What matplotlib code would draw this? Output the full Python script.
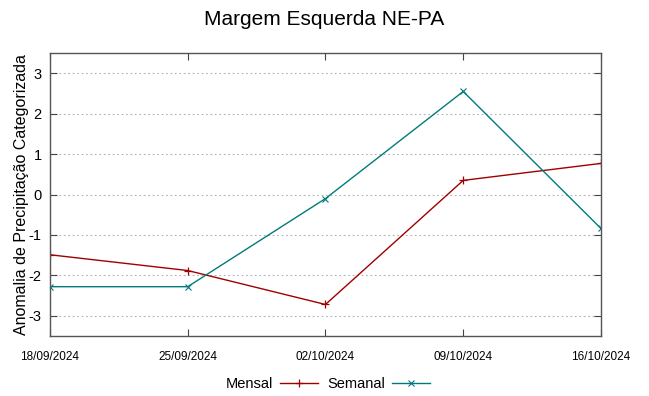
import matplotlib
matplotlib.use("Agg")
import matplotlib.pyplot as plt

plt.rcParams["font.family"] = ["Liberation Sans", "DejaVu Sans"]

dates = ["18/09/2024", "25/09/2024", "02/10/2024", "09/10/2024", "16/10/2024"]
mensal = [-1.49, -1.88, -2.72, 0.35, 0.77]
semanal = [-2.28, -2.28, -0.10, 2.55, -0.84]
yticks = [-3, -2, -1, 0, 1, 2, 3]

x = list(range(len(dates)))

fig = plt.figure(figsize=(6.49, 3.96), dpi=100)
ax = fig.add_axes([0.077, 0.1515, 0.849, 0.7145])

ax.plot(x, mensal, color="#a00000", lw=1, marker="+", ms=6, mew=0.9, label="Mensal")
ax.plot(x, semanal, color="#007b7b", lw=1, marker="x", ms=5, mew=0.8, label="Semanal")

ax.set_xlim(0, len(dates) - 1)
ax.set_ylim(-3.5, 3.5)
ax.set_xticks(x)
ax.set_xticklabels(dates, fontsize=8.5)
ax.set_yticks(yticks)
ax.set_yticklabels([str(v) for v in yticks], fontsize=10.5)
ax.tick_params(axis="both", direction="in", length=5, width=0.8, color="#444444",
               top=True, right=True, pad=6)
ax.tick_params(axis="x", pad=11)
ax.yaxis.grid(True, linestyle=(0, (1.5, 2.5)), color="#b0b0b0", lw=0.8)
for s in ax.spines.values():
    s.set_color("#555555")
    s.set_linewidth(1)

ax.set_ylabel("Anomalia de Precipitação Categorizada", fontsize=11.5, labelpad=0)
fig.suptitle("Margem Esquerda NE-PA", fontsize=15, y=0.975)

fig.legend(loc="lower center", bbox_to_anchor=(0.505, -0.02), ncol=2, frameon=False,
           markerfirst=False, fontsize=10.5, handlelength=2.6, columnspacing=0.6,
           handletextpad=0.5)

fig.savefig("out.png", dpi=100)
